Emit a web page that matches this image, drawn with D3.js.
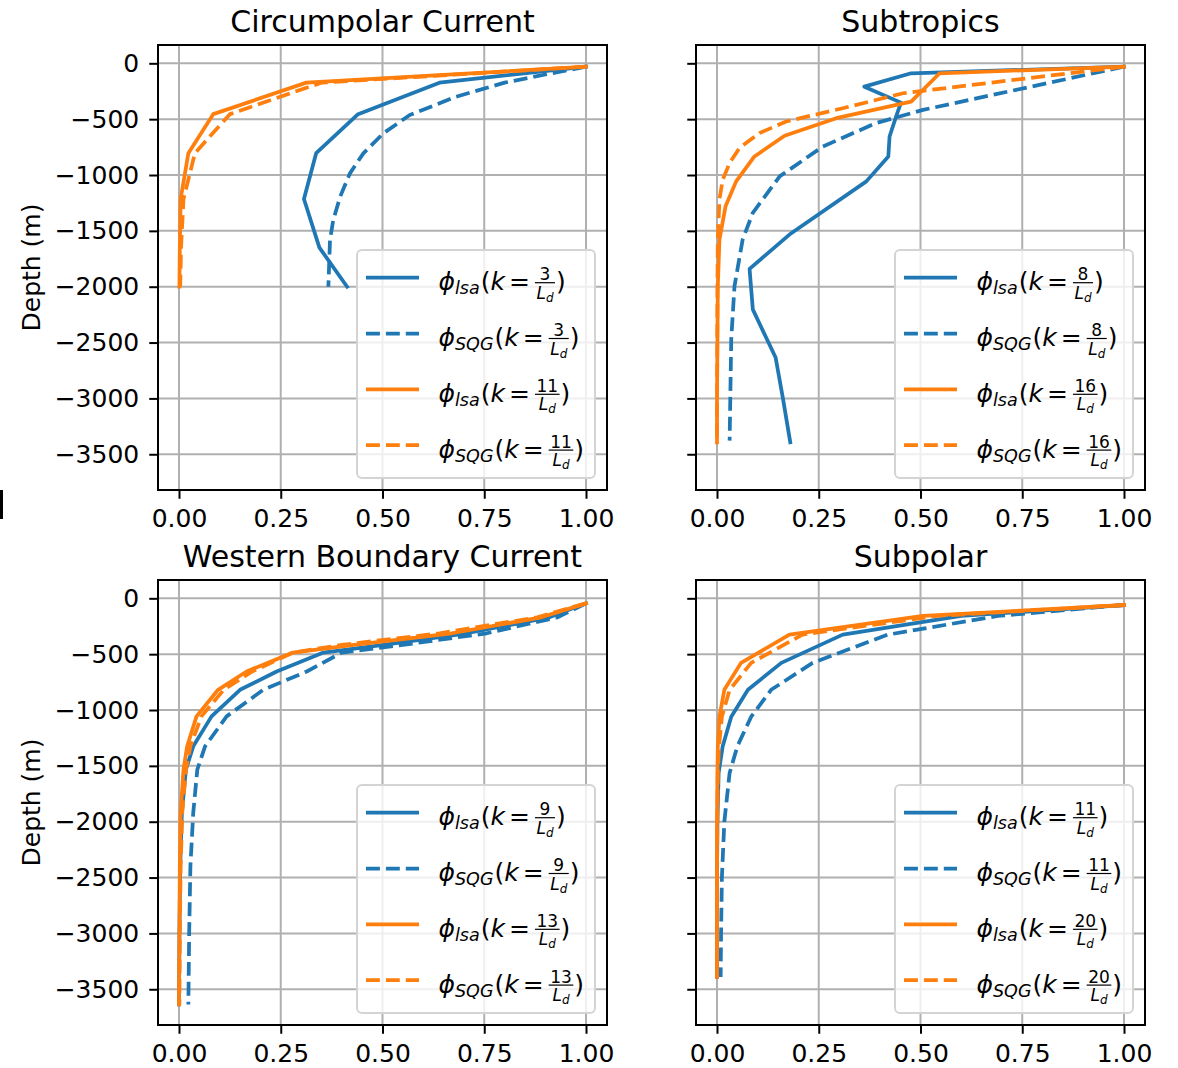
<!DOCTYPE html>
<html>
<head>
<meta charset="utf-8">
<script src="https://cdn.jsdelivr.net/npm/d3@7"></script>
<style>
body { margin: 0; background: #fff; }
text { font-family: "DejaVu Sans", sans-serif; fill: #000; }
</style>
</head>
<body>
<svg id="fig" width="1178" height="1068"></svg>
<script>
// ---- data (depth in m, phi normalised) ----
var xTicks = [0, 0.25, 0.5, 0.75, 1.0];
var yTicks = [0, -500, -1000, -1500, -2000, -2500, -3000, -3500];

// Circumpolar Current
var ccZ = [-30, -173, -455, -805, -1215, -1650, -2000];
var ccLsaLo = [1.0, 0.64, 0.44, 0.337, 0.307, 0.345, 0.413];
var ccLsaHi = [1.0, 0.313, 0.084, 0.023, 0.004, 0.002, 0.001];
var ccSqgHi = [1.0, 0.35, 0.125, 0.039, 0.011, 0.005, 0.003];
var ccZs = [-30, -100, -173, -300, -463, -627, -806, -985, -1194, -1403, -1582, -2000];
var ccSqgLo = [1.0, 0.9, 0.8, 0.68, 0.567, 0.502, 0.453, 0.42, 0.396, 0.379, 0.371, 0.367];

// Subtropics
var stZ = [-30, -89, -209, -352, -477, -655, -834, -1057, -1533, -1840, -2203, -2634, -3000, -3393];
var stLsaLo = [1.0, 0.477, 0.362, 0.452, 0.44, 0.424, 0.421, 0.367, 0.178, 0.08, 0.088, 0.144, 0.162, 0.18];
var stZh = [-30, -89, -343, -491, -649, -834, -1057, -1280, -1578, -1995, -2500, -3000, -3393];
var stLsaHi = [1.0, 0.547, 0.477, 0.293, 0.166, 0.092, 0.047, 0.021, 0.006, 0.002, 0.001, 0.0, 0.0];
var stZs = [-30, -417, -536, -745, -1012, -1339, -1578, -1995, -2470, -3378];
var stSqgLo = [1.0, 0.506, 0.39, 0.26, 0.154, 0.088, 0.063, 0.043, 0.035, 0.031];
var stZsh = [-30, -268, -402, -521, -625, -759, -893, -1042, -1220, -1578, -2000, -3393];
var stSqgHi = [1.0, 0.457, 0.309, 0.17, 0.104, 0.055, 0.031, 0.014, 0.006, 0.002, 0.001, 0.0];

// Western Boundary Current
var wbZ = [-45, -170, -313, -417, -486, -655, -819, -1057, -1325, -1533, -1920, -2400, -3000, -3636];
var wbLsaLo = [1.0, 0.91, 0.707, 0.502, 0.355, 0.24, 0.15, 0.08, 0.035, 0.017, 0.007, 0.003, 0.001, 0.0];
var wbSqgLo = [1.0, 0.93, 0.756, 0.55, 0.40, 0.314, 0.207, 0.117, 0.064, 0.045, 0.035, 0.028, 0.025, 0.023];
var wbLsaHi = [1.0, 0.89, 0.67, 0.43, 0.28, 0.166, 0.096, 0.043, 0.02, 0.011, 0.004, 0.002, 0.001, 0.0];
var wbSqgHi = [1.0, 0.88, 0.64, 0.40, 0.28, 0.18, 0.11, 0.055, 0.028, 0.017, 0.008, 0.004, 0.002, 0.001];

// Subpolar
var spZ = [-60, -158, -325, -578, -819, -1060, -1325, -1563, -2000, -2500, -3000, -3390];
var spLsaLo = [1.0, 0.6, 0.309, 0.158, 0.076, 0.035, 0.014, 0.004, 0.001, 0.0, 0.0, 0.0];
var spSqgLo = [1.0, 0.69, 0.42, 0.235, 0.133, 0.084, 0.05, 0.031, 0.018, 0.012, 0.01, 0.009];
var spLsaHi = [1.0, 0.506, 0.178, 0.059, 0.018, 0.006, 0.002, 0.001, 0.0, 0.0, 0.0, 0.0];
var spSqgHi = [1.0, 0.54, 0.21, 0.084, 0.031, 0.012, 0.005, 0.002, 0.001, 0.0, 0.0, 0.0];

var titles = ["Circumpolar Current", "Subtropics", "Western Boundary Current", "Subpolar"];
var kLo = ["3", "8", "9", "11"];
var kHi = ["11", "16", "13", "20"];

var blue = "#1f77b4", orange = "#ff7f0e";

var panels = [
    {col: 0, row: 0, series: [[ccZ, ccLsaLo], [ccZs, ccSqgLo], [ccZ, ccLsaHi], [ccZ, ccSqgHi]]},
    {col: 1, row: 0, series: [[stZ, stLsaLo], [stZs, stSqgLo], [stZh, stLsaHi], [stZsh, stSqgHi]]},
    {col: 0, row: 1, series: [[wbZ, wbLsaLo], [wbZ, wbSqgLo], [wbZ, wbLsaHi], [wbZ, wbSqgHi]]},
    {col: 1, row: 1, series: [[spZ, spLsaLo], [spZ, spSqgLo], [spZ, spLsaHi], [spZ, spSqgHi]]}
];

var colX = [158, 696], rowY = [45, 580];
var pw = 449, ph = 445;

var svg = d3.select("#fig");
svg.append("rect").attr("width", 1178).attr("height", 1068).attr("fill", "#fff");

// small stray mark at left edge
svg.append("rect").attr("x", 0).attr("y", 490).attr("width", 3).attr("height", 29).attr("fill", "#000");

function mathLabel(g, x0, base, sub, num) {
    var x = x0;
    function put(str, size, italic, y) {
        var el = g.append("text").attr("x", x).attr("y", y)
            .style("font-size", size + "px")
            .style("font-style", italic ? "italic" : "normal")
            .text(str);
        return el.node().getComputedTextLength();
    }
    x += put("\u03D5", 25, true, base);
    x += put(sub, 17.5, true, base + 4) + 1;
    x += put("(", 25, false, base);
    x += put("k", 25, true, base) + 4;
    x += put("=", 25, false, base) + 5;
    // fraction num / L_d
    var numEl = g.append("text").style("font-size", "17px").text(num);
    var wn = numEl.node().getComputedTextLength();
    var LEl = g.append("text").style("font-size", "17px").style("font-style", "italic").text("L");
    var wL = LEl.node().getComputedTextLength();
    var dEl = g.append("text").style("font-size", "12px").style("font-style", "italic").text("d");
    var wd = dEl.node().getComputedTextLength();
    var fw = Math.max(wn, wL + wd) + 3;
    numEl.attr("x", x + (fw - wn) / 2).attr("y", base - 10);
    var lx = x + (fw - wL - wd) / 2;
    LEl.attr("x", lx).attr("y", base + 8.5);
    dEl.attr("x", lx + wL).attr("y", base + 11.5);
    g.append("line").attr("x1", x).attr("x2", x + fw)
        .attr("y1", base - 7.5).attr("y2", base - 7.5)
        .attr("stroke", "#000").attr("stroke-width", 1.2);
    x += fw + 1;
    put(")", 25, false, base);
}

panels.forEach(function(p, i) {
    var x0 = colX[p.col], y0 = rowY[p.row];
    var x = d3.scaleLinear().domain([-0.0516, 1.0516]).range([x0, x0 + pw]);
    var y = d3.scaleLinear().domain([-3820, 164]).range([y0 + ph, y0]);
    var g = svg.append("g");

    // grid
    g.selectAll(".gx").data(xTicks).enter().append("line")
        .attr("x1", function(d) { return x(d); }).attr("x2", function(d) { return x(d); })
        .attr("y1", y0).attr("y2", y0 + ph)
        .attr("stroke", "#b0b0b0").attr("stroke-width", 2);
    g.selectAll(".gy").data(yTicks).enter().append("line")
        .attr("y1", function(d) { return y(d); }).attr("y2", function(d) { return y(d); })
        .attr("x1", x0).attr("x2", x0 + pw)
        .attr("stroke", "#b0b0b0").attr("stroke-width", 2);

    // curves
    var line = d3.line().x(function(d) { return x(d[1]); }).y(function(d) { return y(d[0]); });
    p.series.forEach(function(s, j) {
        var pts = s[0].map(function(z, k) { return [z, s[1][k]]; });
        g.append("path").attr("d", line(pts))
            .attr("fill", "none")
            .attr("stroke", j < 2 ? blue : orange)
            .attr("stroke-width", 3.75)
            .attr("stroke-linejoin", "round")
            .attr("stroke-linecap", j % 2 ? "butt" : "square")
            .attr("stroke-dasharray", j % 2 ? "13.9,6" : null);
    });

    // axes
    var xAxis = d3.axisBottom(x).tickValues(xTicks).tickSize(8.75).tickPadding(10)
        .tickFormat(d3.format(".2f"));
    var gx = g.append("g").attr("transform", "translate(0," + (y0 + ph) + ")").call(xAxis);
    var yAxis = d3.axisLeft(y).tickValues(yTicks).tickSize(8.75).tickPadding(10)
        .tickFormat(function(d) { return p.col === 0 ? (d < 0 ? "\u2212" + (-d) : d) : ""; });
    var gy = g.append("g").attr("transform", "translate(" + x0 + ",0)").call(yAxis);
    [gx, gy].forEach(function(a) {
        a.select(".domain").remove();
        a.selectAll(".tick line").attr("stroke", "#000").attr("stroke-width", 2);
        a.selectAll(".tick text").style("font-size", "25px").attr("fill", "#000")
            .style("font-family", "DejaVu Sans");
    });
    gx.selectAll(".tick text").attr("dy", "0.71em");

    // frame
    g.append("rect").attr("x", x0).attr("y", y0).attr("width", pw).attr("height", ph)
        .attr("fill", "none").attr("stroke", "#000").attr("stroke-width", 2);

    // title
    g.append("text").attr("x", x0 + pw / 2).attr("y", y0 - 13.5)
        .attr("text-anchor", "middle").style("font-size", "30px").text(titles[i]);

    if (p.col === 0) {
        g.append("text")
            .attr("transform", "translate(40," + (y0 + ph / 2) + ") rotate(-90)")
            .attr("text-anchor", "middle").style("font-size", "25px").text("Depth (m)");
    }

    // legend
    var lw = 238, lh = 228;
    var lx = x0 + pw - 12 - lw, ly = y0 + ph - 12 - lh;
    var lg = g.append("g");
    lg.append("rect").attr("x", lx).attr("y", ly).attr("width", lw).attr("height", lh)
        .attr("rx", 5).attr("fill", "#fff").attr("fill-opacity", 0.8)
        .attr("stroke", "#d4d4d4").attr("stroke-width", 2);
    var subs = ["lsa", "SQG", "lsa", "SQG"];
    var nums = [kLo[i], kLo[i], kHi[i], kHi[i]];
    for (var j = 0; j < 4; j++) {
        var hy = ly + 27.7 + j * 55.8;
        lg.append("line").attr("x1", lx + 9).attr("x2", lx + 62)
            .attr("y1", hy).attr("y2", hy)
            .attr("stroke", j < 2 ? blue : orange).attr("stroke-width", 3.75)
            .attr("stroke-dasharray", j % 2 ? "13.9,6" : null);
        mathLabel(lg, lx + 81.5, hy + 12.5, subs[j], nums[j]);
    }
});
</script>
</body>
</html>
